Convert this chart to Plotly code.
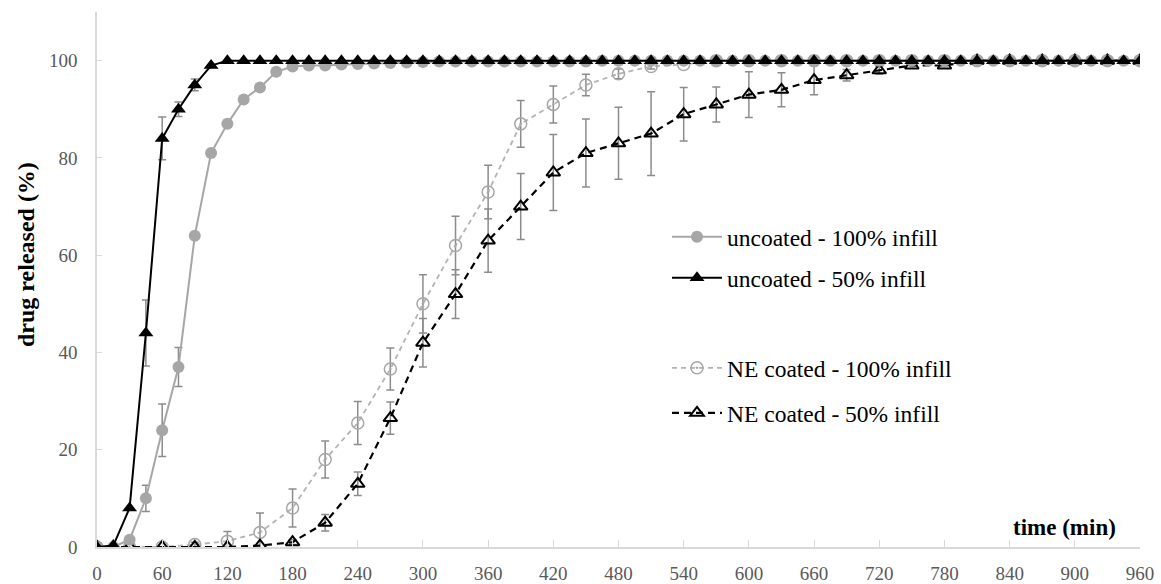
import plotly.graph_objects as go

# ---------------- data ----------------
t15 = list(range(0, 961, 15))
t30 = list(range(0, 961, 30))

unc100 = [0, 0, 1.5, 10, 24, 37, 64, 81, 87, 92, 94.5, 97.7, 98.8, 99, 99, 99.2, 99.3,
          99.4, 99.5, 99.6, 99.7] + [99.8] * 10 + [100] * 34
unc100_err = [None, None, None, 2.7, 5.4, 4.0] + [None] * 59

unc50 = [0, 0.3, 8, 44, 84, 90, 95, 99] + [100] * 57
unc50_err = [None, None, None, 6.8, 4.4, 1.5, 1.2] + [None] * 58

ne100 = [0, 0, 0, 0.5, 1.2, 3, 8, 18, 25.5, 36.6, 50, 62, 73, 87, 91, 95, 97.3, 98.8,
         99.2] + [100] * 14
ne100_err = [None, None, None, 0.5, 2, 4, 3.9, 3.8, 4.4, 4.3, 6, 6, 5.5, 4.8, 3.8, 2.2,
             1, 0.5] + [None] * 15

ne50 = [0, 0, 0, 0, 0, 0.3, 1, 5, 13, 26.5, 42, 52, 63, 70, 77, 81, 83, 85, 89, 91, 93,
        94, 96, 97, 98, 99, 99] + [100] * 6
ne50_err = [None, None, None, None, None, None, 0.5, 1.7, 2.4, 3.3, 5, 5, 6.5, 6.8, 7.8,
            7, 7.4, 8.6, 5.5, 3.6, 4.7, 3.5, 3, 1.2, 0.8] + [None] * 8

names = ["uncoated - 100% infill", "uncoated - 50% infill",
         "NE coated - 100% infill", "NE coated - 50% infill"]

x_ticks = list(range(0, 961, 60))
y_ticks = list(range(0, 101, 20))

# ---------------- figure ----------------
FONT = "Liberation Serif"
ERRC = "#8c8c8c"
fig = go.Figure()


def add_err(x, y, err):
    xs = [a for a, e in zip(x, err) if e is not None]
    ys = [b for b, e in zip(y, err) if e is not None]
    es = [e for e in err if e is not None]
    fig.add_trace(go.Scatter(
        x=xs, y=ys, mode="markers", showlegend=False, hoverinfo="skip",
        marker=dict(size=2, color="rgba(0,0,0,0)"),
        error_y=dict(type="data", array=es, visible=True, color=ERRC,
                     thickness=1.5, width=4)))


add_err(t30, ne100, ne100_err)
add_err(t30, ne50, ne50_err)
add_err(t15, unc100, unc100_err)
add_err(t15, unc50, unc50_err)

fig.add_trace(go.Scatter(
    x=t30, y=ne100, mode="lines+markers", name=names[2], legend="legend3",
    line=dict(color="#b3b3b3", width=1.8, dash="5px,4px"),
    marker=dict(symbol="circle-open-dot", size=12, color="#a6a6a6",
                line=dict(width=1.5, color="#a6a6a6"))))
fig.add_trace(go.Scatter(
    x=t30, y=ne50, mode="lines+markers", name=names[3], legend="legend4",
    line=dict(color="#000000", width=2.2, dash="7px,5px"),
    marker=dict(symbol="triangle-up-open", size=12, color="#000000",
                line=dict(width=2, color="#000000"))))
fig.add_trace(go.Scatter(
    x=t15, y=unc100, mode="lines+markers", name=names[0], legend="legend",
    line=dict(color="#a6a6a6", width=2),
    marker=dict(symbol="circle", size=12, color="#a6a6a6")))
fig.add_trace(go.Scatter(
    x=t15, y=unc50, mode="lines+markers", name=names[1], legend="legend2",
    line=dict(color="#000000", width=2),
    marker=dict(symbol="triangle-up", size=13, color="#000000")))

L, R, T, B = 97, 21, 12, 37
W, H = 1161, 584
pw, ph = W - L - R, H - T - B


def px_x(p):
    return (p - L) / pw


def px_y(p):
    return (H - B - p) / ph


leg_common = dict(xanchor="left", yanchor="middle", bgcolor="rgba(0,0,0,0)",
                  font=dict(family=FONT, size=23.5, color="#000000"), borderwidth=0,
                  itemwidth=50)
lx = px_x(667)
fig.update_layout(
    width=W, height=H,
    margin=dict(l=L, r=R, t=T, b=B, autoexpand=False),
    paper_bgcolor="white", plot_bgcolor="white",
    font=dict(family=FONT),
    legend=dict(x=lx, y=px_y(237), **leg_common),
    legend2=dict(x=lx, y=px_y(278), **leg_common),
    legend3=dict(x=lx, y=px_y(368), **leg_common),
    legend4=dict(x=lx, y=px_y(413), **leg_common),
    xaxis=dict(range=[0, 960], tickvals=x_ticks, ticktext=[str(v) for v in x_ticks],
               showgrid=False, zeroline=False, showline=True, linecolor="#d9d9d9",
               linewidth=1.5, ticks="inside", ticklen=7, tickcolor="#d9d9d9",
               tickfont=dict(family=FONT, size=19, color="#595959"),
               ticklabelstandoff=8, automargin=False),
    yaxis=dict(range=[0, 110], tickvals=y_ticks, ticktext=[str(v) for v in y_ticks],
               showgrid=False, zeroline=False, showline=True, linecolor="#d9d9d9",
               linewidth=1.5, ticks="inside", ticklen=5, tickcolor="#d9d9d9",
               tickfont=dict(family=FONT, size=19, color="#595959"),
               ticklabelstandoff=14, automargin=False),
    annotations=[
        dict(text="<b>time (min)</b>", xref="paper", yref="paper",
             x=px_x(1118), y=px_y(527), xanchor="right", yanchor="middle",
             showarrow=False, font=dict(family=FONT, size=23, color="#000000")),
        dict(text="<b>drug released (%)</b>", xref="paper", yref="paper",
             x=px_x(26), y=px_y(255), xanchor="center", yanchor="middle",
             textangle=-90, showarrow=False,
             font=dict(family=FONT, size=24, color="#000000")),
    ],
)

fig.write_html("out.html", config={"displayModeBar": False},
               post_script="document.body.style.margin='0px';"
                           "document.body.style.overflow='hidden';")
